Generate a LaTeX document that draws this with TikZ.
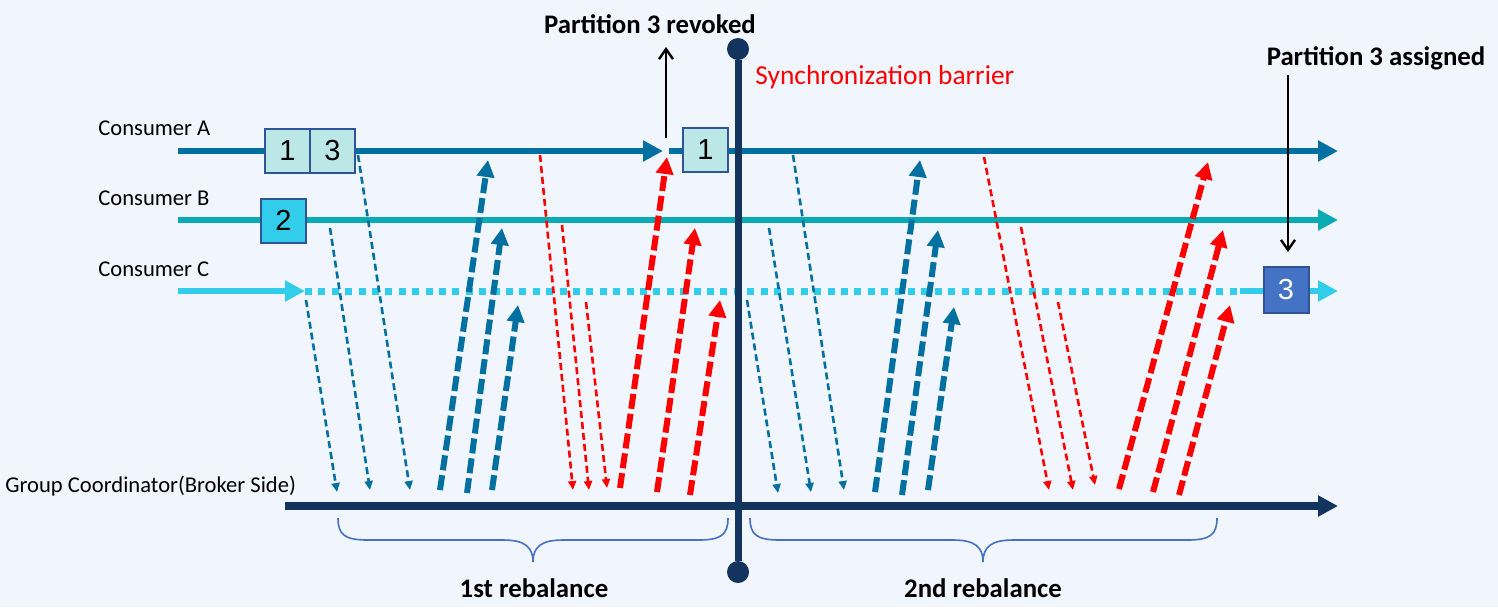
\documentclass[tikz,border=0pt]{standalone}
\usepackage{fontspec}
\setmainfont{Carlito}
\newfontfamily\digitfont{Liberation Sans}
\usetikzlibrary{arrows.meta,positioning}

\definecolor{bgcol}{RGB}{241,245,254}
\definecolor{colA}{RGB}{0,112,160}
\definecolor{colB}{RGB}{10,170,180}
\definecolor{colC}{RGB}{50,205,235}
\definecolor{navy}{RGB}{18,52,95}
\definecolor{boxA}{RGB}{187,232,230}
\definecolor{boxC}{RGB}{68,114,196}
\definecolor{boxline}{RGB}{47,85,151}
\definecolor{bracecol}{RGB}{68,114,196}

\begin{document}
\begin{tikzpicture}[x=0.5pt, y=-0.5pt,
  timeline/.style={line width=3pt,-{Triangle[length=10pt,width=10pt]}},
  part/.style={draw=boxline,line width=1pt,minimum width=22.5pt,minimum height=22pt,inner sep=0pt,outer sep=0pt,font=\digitfont\fontsize{14.5}{15}\selectfont},
  request/.style={line width=1.3pt,dash pattern=on 3.5pt off 2pt,-{Triangle[length=4.5pt,width=4pt]}},
  reply/.style={line width=3pt,dash pattern=on 7.5pt off 2.5pt,-{Triangle[length=8.5pt,width=8.5pt]}},
  note/.style={line width=1.2pt,-{Straight Barb[length=5pt,width=7pt]}},
  curly/.style={draw=bracecol,line width=0.8pt},
  lbl/.style={inner sep=0pt,font=\fontsize{11.3}{13}\selectfont},
  head/.style={inner sep=0pt,font=\bfseries\fontsize{13.4}{16}\selectfont}]
\useasboundingbox (0,0) rectangle (1498,607);
\fill[bgcol] (0,0) rectangle (1498,607);

% labels of the timelines
\node[lbl,anchor=base west] (ca) at (98,135) {Consumer A};
\node[lbl,anchor=base west] (cb) at (98,205) {Consumer B};
\node[lbl,anchor=base west] (cc) at (98,276) {Consumer C};
\node[lbl,anchor=base west] (gc) at (5,492) {Group Coordinator(Broker Side)};

% timelines
\coordinate (a0) at (178,151); \coordinate (a1) at (663,151);
\coordinate (a2) at (669,151); \coordinate (a3) at (1338,151);
\coordinate (b0) at (178,220); \coordinate (b1) at (1338,220);
\coordinate (c0) at (178,291); \coordinate (c1) at (305,291);
\coordinate (c2) at (1240,291); \coordinate (c3) at (1338,291);
\coordinate (g0) at (285,506); \coordinate (g1) at (1338,506);
\draw[timeline,colA] (a0) -- (a1);
\draw[timeline,colA] (a2) -- (a3);
\draw[timeline,colB] (b0) -- (b1);
\draw[timeline,colC] (c0) -- (c1);
\draw[colC,line width=3.5pt,dash pattern=on 3.5pt off 3.2pt] (c1) -- (c2);
\draw[timeline,colC] (c2) -- (c3);
\draw[timeline,navy,line width=4pt] (g0) -- (g1);

% partitions held by each consumer
\node[part,fill=boxA] (p1a) at (287.5,151) {1};
\node[part,fill=boxA,right=0pt of p1a] (p3a) {3};
\node[part,fill=colC] (p2b) at (283.5,220.5) {2};
\node[part,fill=boxA] (p1n) at (705.5,150) {1};
\node[part,fill=boxC,text=white,minimum height=23pt] (p3c) at (1286,290) {3};

% join requests (thin) and responses (thick)
\foreach \xa/\ya/\xb/\yb [count=\i] in {306/300/337/492, 330/228/370/490, 358/155/410/490,
    747/300/778/493, 769/228/811/492, 793/155/844/490}
  {\coordinate (bs\i) at (\xa,\ya); \coordinate (be\i) at (\xb,\yb);
   \draw[request,colA] (bs\i) -- (be\i);}
\foreach \xa/\ya/\xb/\yb [count=\i] in {540/155/573/490, 562/225/589/490, 586/302/607/488,
    984/157/1049/490, 1021/227/1073/490, 1058/302/1095/485}
  {\coordinate (rs\i) at (\xa,\ya); \coordinate (re\i) at (\xb,\yb);
   \draw[request,red] (rs\i) -- (re\i);}
\foreach \xa/\ya/\xb/\yb [count=\i] in {440/490/488/160, 467/493/502/228, 492/490/518/305,
    875/492/920/160, 902/495/938/230, 928/490/954/307}
  {\coordinate (bu\i) at (\xa,\ya); \coordinate (bt\i) at (\xb,\yb);
   \draw[reply,colA] (bu\i) -- (bt\i);}
\foreach \xa/\ya/\xb/\yb [count=\i] in {620/488/667/157, 657/492/695/228, 690/495/720/300,
    1119/489/1208/162, 1153/492/1223/230, 1179/495/1230/305}
  {\coordinate (ru\i) at (\xa,\ya); \coordinate (rt\i) at (\xb,\yb);
   \draw[reply,red] (ru\i) -- (rt\i);}

% synchronization barrier
\node[circle,fill=navy,minimum size=11pt,inner sep=0pt] (bartop) at (738,49) {};
\node[circle,fill=navy,minimum size=11pt,inner sep=0pt] (barbot) at (738,572) {};
\draw[navy,line width=3.5pt] (bartop) -- (barbot);
\node[lbl,anchor=base west,text=red,font=\fontsize{13.7}{16}\selectfont] (sync) at (755,84) {Synchronization barrier};

% revoke / assign notes
\node[head,anchor=base] (rvk) at (650,33) {Partition 3 revoked};
\coordinate (rv0) at (666,138); \coordinate (rv1) at (666,47);
\draw[note] (rv0) -- (rv1);
\node[head,anchor=base] (asg) at (1376,65) {Partition 3 assigned};
\coordinate (as0) at (1288,75); \coordinate (as1) at (1288,252);
\draw[note] (as0) -- (as1);

% rebalance braces
\draw[curly] (338,518) .. controls (338,535) and (345,540) .. (368,540) -- (503,540)
  .. controls (525,540) and (533,547) .. (533,562) .. controls (533,547) and (541,540) .. (563,540)
  -- (698,540) .. controls (721,540) and (728,535) .. (728,518);
\draw[curly] (750,518) .. controls (750,535) and (757,540) .. (780,540) -- (953,540)
  .. controls (975,540) and (983,547) .. (983,562) .. controls (983,547) and (991,540) .. (1013,540)
  -- (1187,540) .. controls (1210,540) and (1217,535) .. (1217,518);
\node[head,anchor=base] (rb1) at (534,597) {1st rebalance};
\node[head,anchor=base] (rb2) at (983,597) {2nd rebalance};
\end{tikzpicture}
\end{document}
